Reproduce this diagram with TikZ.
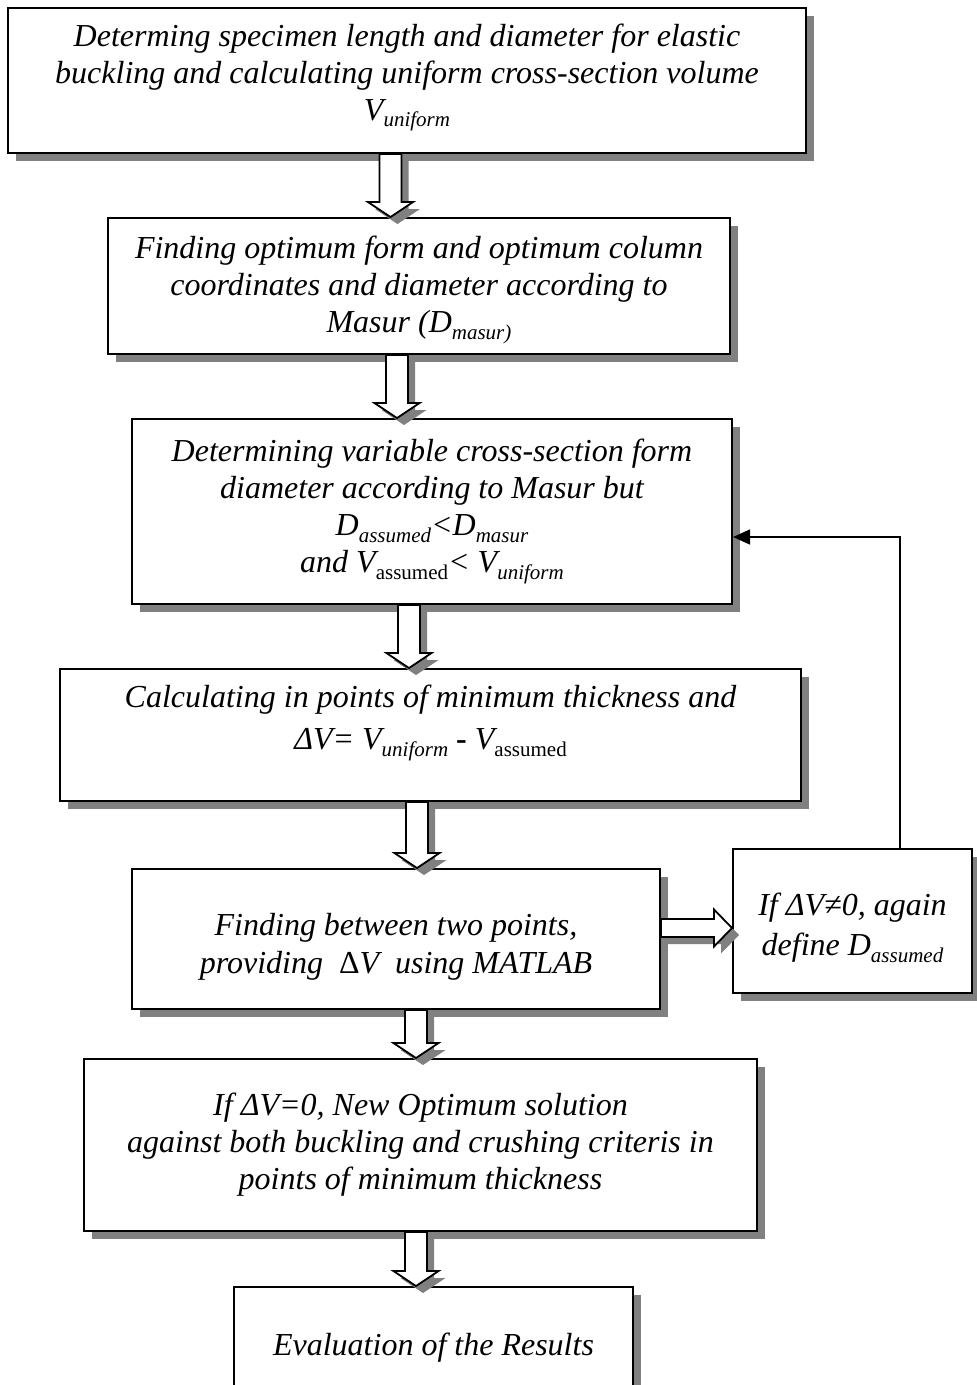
\documentclass[tikz,border=0pt]{standalone}
\usepackage{fontspec}
\setmainfont{Liberation Serif}
\usetikzlibrary{shadows,arrows.meta,calc}

% lowered, reduced subscript in the surrounding shape
\newcommand{\sbs}[1]{\raisebox{-0.2em}{\fontsize{21}{21}\selectfont #1}}

% hollow block arrow pointing down, axis at x = #1, from node #2 to node #3
\newcommand{\fatdown}[3]{%
  \path[blockarrow] let \p1=(#2.south), \p2=(#3.north) in
    ({#1-11},\y1) -- ({#1+11},\y1) -- ({#1+11},{\y2+15pt}) -- ({#1+22.5},{\y2+15pt})
    -- (#1,\y2) -- ({#1-22.5},{\y2+15pt}) -- ({#1-11},{\y2+15pt}) -- cycle;}

% hollow block arrow pointing right, axis at y = #1, from node #2 to node #3
\newcommand{\fatright}[3]{%
  \path[blockarrow, drop shadow={opacity=0}] let \p1=(#2.east), \p2=(#3.west) in
    (\x1,{#1-9}) -- ({\x2-18pt},{#1-9}) -- ({\x2-18pt},{#1-18.5}) -- (\x2,#1)
    -- ({\x2-18pt},{#1+18.5}) -- ({\x2-18pt},{#1+9}) -- (\x1,{#1+9}) -- cycle;}

\tikzset{
  box/.style={draw=black, line width=2pt, fill=white, rectangle, inner sep=0pt,
    drop shadow={shadow xshift=8pt, shadow yshift=-8pt, fill=gray, opacity=1}},
  txt/.style={font=\fontsize{32}{37}\selectfont\itshape, align=center, inner sep=0pt},
  blockarrow/.style={draw=black, line width=1.8pt, fill=white, line join=miter,
    drop shadow={shadow xshift=7pt, shadow yshift=-7pt, fill=gray, opacity=1}},
  feedback/.style={draw=black, line width=1.6pt, -{Triangle[length=17pt,width=15pt]}},
}

\begin{document}
\begin{tikzpicture}[x=1pt, y=-1pt]
\clip (0,0) rectangle (977,1385);
\fill[white] (0,0) rectangle (977,1385);

% process boxes
\node[box, minimum width=798, minimum height=145] (b1) at (407,80.5) {};
\node[box, minimum width=622, minimum height=136] (b2) at (419,286) {};
\node[box, minimum width=600, minimum height=185] (b3) at (432,511.5) {};
\node[box, minimum width=741, minimum height=132] (b4) at (430.5,735) {};
\node[box, minimum width=528, minimum height=140] (b5) at (396,939) {};
\node[box, minimum width=239, minimum height=144] (rb) at (852.5,921) {};
\node[box, minimum width=673, minimum height=172] (b6) at (420.5,1145) {};
\node[box, minimum width=399, minimum height=122] (b7) at (433.5,1348) {};

% box texts
\node[txt, yshift=3pt] (t1) at (b1) {Determing specimen length and diameter for elastic\\
  buckling and calculating uniform cross-section volume\\ V\sbs{uniform}};
\node[txt, yshift=-4pt] (t2) at (b2) {Finding optimum form and optimum column\\
  coordinates and diameter according to\\ Masur (D\sbs{masur)}};
\node[txt] (t3) at (b3) {Determining variable cross-section form\\
  diameter according to Masur but\\ D\sbs{assumed}<D\sbs{masur}\\
  and V\sbs{\upshape assumed}< V\sbs{uniform}};
\node[txt, font=\fontsize{32}{42}\selectfont\itshape, yshift=12pt] (t4) at (b4)
  {Calculating in points of minimum thickness and\\
  ΔV= V\sbs{uniform} {\upshape\bfseries -} V\sbs{\upshape assumed}};
\node[txt, font=\fontsize{32}{38}\selectfont\itshape, yshift=-8pt] (t5) at (b5)
  {Finding between two points,\\
  providing\ \ {\upshape Δ}V\ \ using MATLAB};
\node[txt, font=\fontsize{32}{40}\selectfont\itshape, yshift=-7pt] (t6) at (rb)
  {If ΔV≠0, again\\ define D\sbs{assumed}};
\node[txt] (t7) at (b6) {If ΔV=0, New Optimum solution\\
  against both buckling and crushing criteris in\\ points of minimum thickness};
\node[txt] (t8) at (b7) {Evaluation of the Results};

% block arrows between the steps
\fatdown{390.5}{b1}{b2}
\fatdown{397}{b2}{b3}
\fatdown{409}{b3}{b4}
\fatdown{417}{b4}{b5}
\fatdown{416}{b5}{b6}
\fatdown{416}{b6}{b7}
\fatright{928}{b5}{rb}

% loop back from the check to the assumed diameter step
\coordinate (fb) at (900,537);
\draw[feedback] (rb.north -| fb) -- (fb) -- (b3.east |- fb);
\end{tikzpicture}
\end{document}
